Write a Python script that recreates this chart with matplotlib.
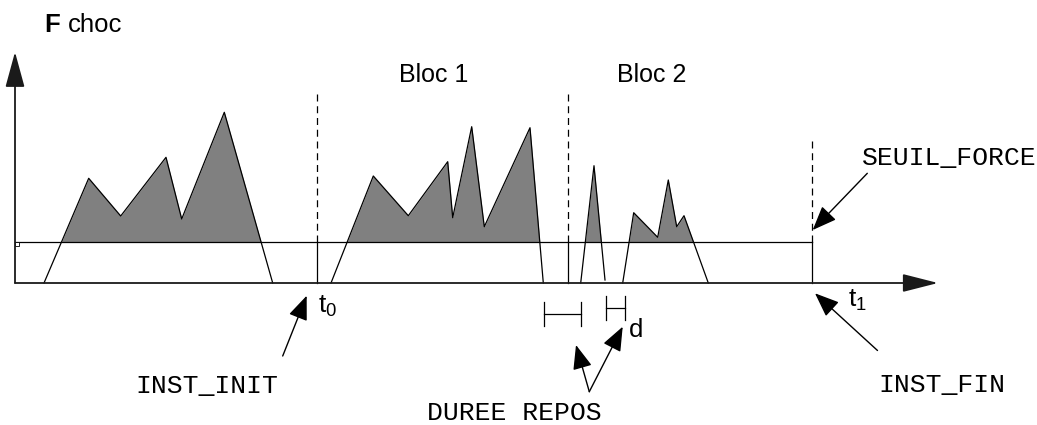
import matplotlib
matplotlib.use('Agg')
import numpy as np
import matplotlib.pyplot as plt

plt.rcParams['mathtext.fontset'] = 'custom'
plt.rcParams['mathtext.rm'] = 'Liberation Sans'
plt.rcParams['mathtext.it'] = 'Liberation Sans'

SANS = 'Liberation Sans'
MONO = 'Liberation Mono'

# schema : temps (x) et force de choc (y), unites arbitraires
seuil = 41
t_fin_axe = 938
f_max_axe = 231
t_debut_axe = 15

# les blocs de chocs (polygones de force)
bloc0_t = [44, 88.7, 120.7, 166, 181.7, 224.3, 272.7]
bloc0_f = [0, 104.7, 67, 125.7, 64, 170.7, 0]
bloc1_t = [331, 373.3, 408.3, 447.7, 452.7, 471.7, 484.3, 530, 543.3]
bloc1_f = [0, 107, 67.3, 121.3, 65.3, 156.3, 56.3, 155.3, 0]
bloc2a_t = [580.7, 594, 605]
bloc2a_f = [0, 117.3, 3]
bloc2b_t = [622.7, 633.7, 657.7, 668.3, 676.7, 684, 708.3]
bloc2b_f = [0, 70.3, 45.7, 103, 56.3, 67.3, 0]

# instants (t0, separation des blocs, t1) et hauteur des tirets
instants = [317, 568, 812]
hauteur_tirets = [190, 192, 144]

# durees de repos (crochets)
repos1 = [544, 581]
repos2 = [606, 624.5]

fig = plt.figure(figsize=(10.37, 4.25), dpi=100)
ax = fig.add_axes([0, 0, 1, 1])
ax.set_xlim(0, 1037)
ax.set_ylim(-142, 283)
ax.axis('off')

LW = 0.9
ax_col = '#1a1a1a'

# axes avec fleches
ax.annotate('', xy=(t_debut_axe, f_max_axe), xytext=(t_debut_axe, 0),
            arrowprops=dict(arrowstyle='-|>,head_length=1.1,head_width=0.3',
                            mutation_scale=20, color=ax_col, lw=1.3,
                            shrinkA=0, shrinkB=0))
ax.annotate('', xy=(t_fin_axe, 0), xytext=(t_debut_axe, 0),
            arrowprops=dict(arrowstyle='-|>,head_length=1.1,head_width=0.28',
                            mutation_scale=20, color=ax_col, lw=1.3,
                            shrinkA=0, shrinkB=0))

# blocs
for bt, bf in [(bloc0_t, bloc0_f), (bloc1_t, bloc1_f),
               (bloc2a_t, bloc2a_f), (bloc2b_t, bloc2b_f)]:
    bt = np.array(bt)
    bf = np.array(bf)
    ax.fill_between(bt, bf, seuil, where=bf >= seuil, interpolate=True,
                    color='#808080', lw=0)
    ax.plot(bt, bf, color='black', lw=LW)

# seuil
ax.plot([t_debut_axe, instants[-1]], [seuil, seuil], color='black', lw=LW)
ax.plot([17], [seuil - 2], marker='s', ms=2.5, mfc='white', mec='black', mew=0.6)

# instants verticaux
for ti, h in zip(instants, hauteur_tirets):
    ax.plot([ti, ti], [0, seuil], color='black', lw=LW)
    ax.plot([ti, ti], [seuil, h], color='black', lw=LW, linestyle=(0, (5.6, 3.8)))

# crochets des durees de repos
for (a, b), yc, hh in [(repos1, -30.5, 12), (repos2, -24.5, 12)]:
    ax.plot([a, b], [yc, yc], color='black', lw=LW)
    ax.plot([a, a], [yc + hh, yc - hh], color='black', lw=LW)
    ax.plot([b, b], [yc + hh, yc - hh], color='black', lw=LW)

# textes
ax.text(44, 251, 'F', fontsize=18.5, family=SANS, weight='bold', va='baseline')
ax.text(68, 251, 'choc', fontsize=18.5, family=SANS, va='baseline')
ax.text(399, 201, 'Bloc 1', fontsize=18, family=SANS, va='baseline')
ax.text(617, 201, 'Bloc 2', fontsize=18, family=SANS, va='baseline')

ax.text(318, -30, r'$\mathrm{t_0}$', fontsize=19, va='baseline')
ax.text(848, -24, r'$\mathrm{t_1}$', fontsize=19, va='baseline')
ax.text(629, -54, 'd', fontsize=18.5, family=SANS, va='baseline')

ax.text(862, 118, 'SEUIL_FORCE', fontsize=19, family=MONO, va='baseline')
ax.text(878, -109, 'INST_FIN', fontsize=19, family=MONO, va='baseline')
ax.text(135, -110, 'INST_INIT', fontsize=19, family=MONO, va='baseline')
ax.text(427, -137, 'DUREE REPOS', fontsize=19, family=MONO, va='baseline')

# fleches d'annotation
fleches = [((282.7, -73), (306.7, -12.7)),
           ((589.3, -108.7), (576, -62)),
           ((589.3, -108.7), (622.7, -43.7)),
           ((877.5, -67.5), (815, -10.3)),
           ((867.3, 109.7), (812.7, 53))]
for queue, pointe in fleches:
    ax.annotate('', xy=pointe, xytext=queue,
                arrowprops=dict(arrowstyle='-|>,head_length=0.75,head_width=0.3',
                                mutation_scale=20, color='black', lw=1.0,
                                shrinkA=0, shrinkB=0))

fig.savefig('out.png', dpi=100)
